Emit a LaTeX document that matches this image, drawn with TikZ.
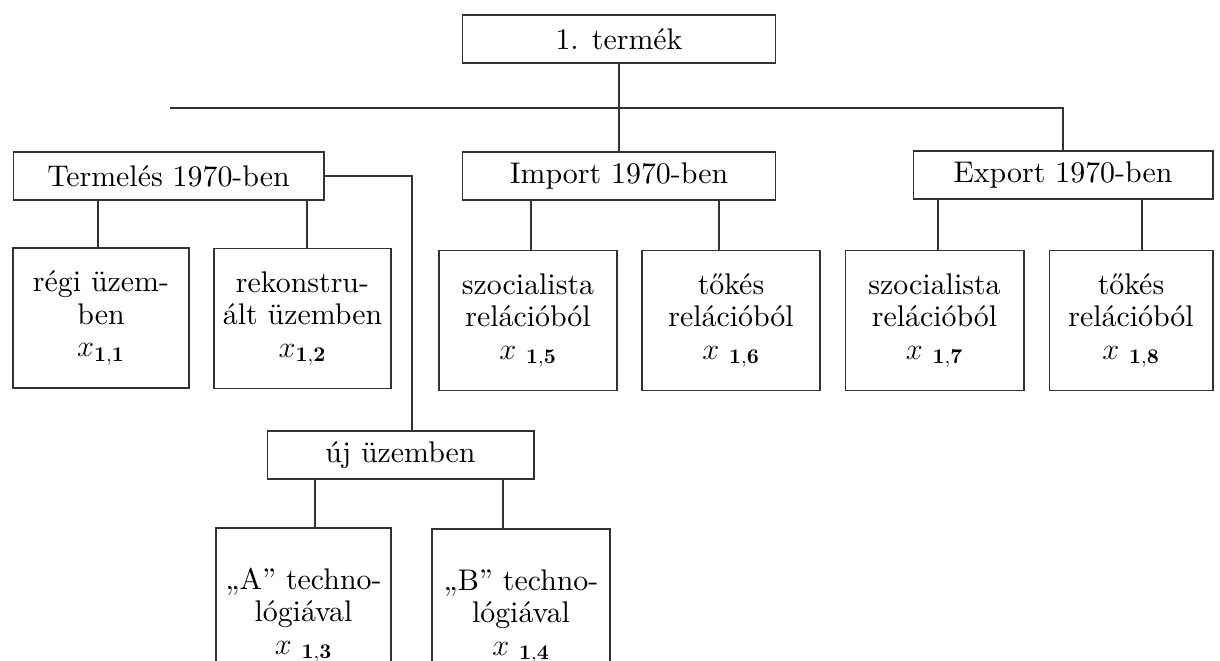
\documentclass[tikz,border=0pt]{standalone}
\usepackage{amsmath}
\usepackage{fontspec}
\setmainfont{lmroman10-regular.otf}[BoldFont=lmroman10-bold.otf,
  ItalicFont=lmroman10-italic.otf]
\usepackage{tikz}

\tikzset{
  box/.style={draw=black!80, line width=0.6pt, align=center, inner sep=2pt,
    font=\fontsize{17}{18.5}\selectfont},
  wide/.style={box, minimum height=0.96cm},
  cell/.style={box, minimum height=2.8cm}
}

\begin{document}
\begin{tikzpicture}[x=0.02cm,y=-0.02cm,line width=0.6pt,draw=black!80]

\useasboundingbox (0,0) rectangle (1220,661);
\clip (0,0) rectangle (1220,661);

% Top level
\node[wide, minimum width=6.26cm] (top) at (619,39) {1. termék};

% ---- Second level ----
\node[wide, minimum width=6.22cm] (term) at (168.5,176) {Termelés 1970-ben};
\node[wide, minimum width=6.26cm] (imp) at (619,176) {Import 1970-ben};
\node[wide, minimum width=6.00cm] (exp) at (1063,175) {Export 1970-ben};

% ---- Third level ----
\node[cell, minimum width=3.52cm] (regi) at (101,318)
  {régi üzem-\\ben\\$x_{\mathbf{1,1}}$};
\node[cell, minimum width=3.54cm] (rekon) at (302.5,318.5)
  {rekonstru-\\ált üzemben\\$x_{\mathbf{1,2}}$};
\node[cell, minimum width=3.56cm] (szocimp) at (528,320.5)
  {szocialista\\relációból\\$x\ {}_{\mathbf{1,5}}$};
\node[cell, minimum width=3.56cm] (tokimp) at (731,320.5)
  {tőkés\\relációból\\$x\ {}_{\mathbf{1,6}}$};
\node[cell, minimum width=3.58cm] (szocexp) at (934.5,320.5)
  {szocialista\\relációból\\$x\ {}_{\mathbf{1,7}}$};
\node[cell, minimum width=3.28cm] (tokexp) at (1131,320.5)
  {tőkés\\relációból\\$x\ {}_{\mathbf{1,8}}$};

% New plant
\node[wide, minimum width=5.34cm] (uj) at (400.5,455) {új üzemben};

% Technologies (cut off at the bottom)
\node[box, minimum width=3.50cm, minimum height=3.5cm] (techa) at (303.5,615.5)
  {„A” techno-\\lógiával\\$x\ {}_{\mathbf{1,3}}$};
\node[box, minimum width=3.56cm, minimum height=3.5cm] (techb) at (521,616.5)
  {„B” techno-\\lógiával\\$x\ {}_{\mathbf{1,4}}$};

% ---- Connectors ----
\coordinate (lend) at (170,108);
\draw (top) -- (imp);
\draw (lend) -| (exp.north);

\coordinate (ujtop) at ([xshift=11.5*0.02cm]uj.north);
\draw (term.east) -| (ujtop);

% Stems to the children
\foreach \up/\ch/\dx in {term/regi/-3, term/rekon/4.5, imp/szocimp/3,
    imp/tokimp/-12, exp/szocexp/3.5, exp/tokexp/11, uj/techa/11.5, uj/techb/-18}{
  \coordinate (stem) at ([xshift=\dx*0.02cm]\ch.north);
  \draw (stem) -- (stem |- \up.south);
}

\end{tikzpicture}
\end{document}
